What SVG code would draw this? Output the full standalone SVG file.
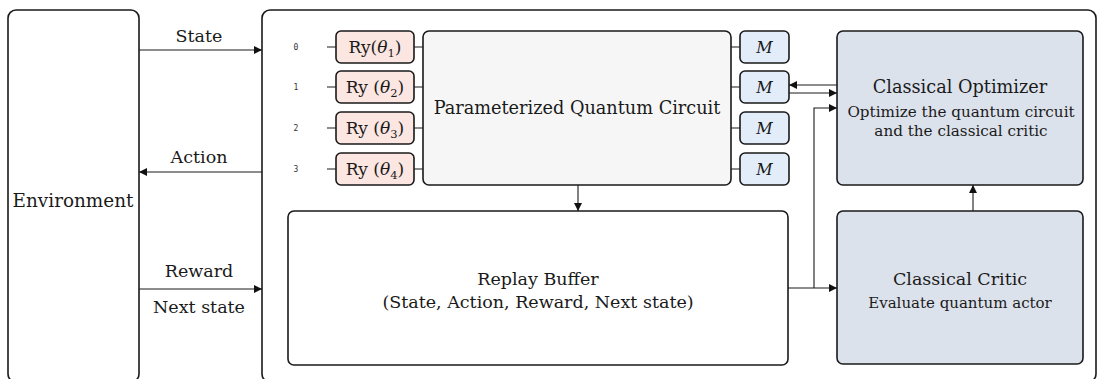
<svg xmlns="http://www.w3.org/2000/svg" width="1098" height="379" viewBox="0 0 1098 379">
<defs>
<marker id="ah" viewBox="0 0 10 10" refX="10" refY="5" markerWidth="8" markerHeight="8" markerUnits="userSpaceOnUse" orient="auto">
<path d="M0,0 L10,5 L0,10 z" fill="#111"/>
</marker>
</defs>
<style>
.box{stroke:#1a1a1a;stroke-width:1.6}
.t{font-family:"DejaVu Serif","Liberation Serif",serif;fill:#1a1a1a;text-anchor:middle}
.lbl{font-size:17.5px}
.ry{fill:#fbe6e1}
.m{fill:#e2edf9}
.cl{fill:#dce2ec}
.q{font-family:"DejaVu Sans Mono","Liberation Mono",monospace;font-size:8px;fill:#333;text-anchor:middle}
.c{stroke:#1a1a1a;stroke-width:1.1;fill:none}
.a{marker-end:url(#ah)}
</style>
<rect width="1098" height="379" fill="#fff"/>

<g id="environment">
<rect class="box" x="8" y="10" width="131" height="372" rx="8" fill="#fff"/>
<text class="t" x="73" y="207" font-size="18.4">Environment</text>
</g>

<g id="agent">
<rect class="box" x="262" y="10" width="834" height="372" rx="8" fill="#fff"/>
</g>

<g id="qubit-labels">
<text class="q" x="296" y="50">0</text>
<text class="q" x="296" y="90">1</text>
<text class="q" x="296" y="131">2</text>
<text class="q" x="296" y="172">3</text>
</g>

<g id="ry1">
<rect class="box ry" x="336" y="31" width="78" height="32" rx="5"/>
<text class="t" x="375" y="53" font-size="17">Ry(<tspan font-style="italic">θ</tspan><tspan font-size="11.5" dy="4">1</tspan><tspan dy="-4">)</tspan></text>
</g>
<g id="ry2">
<rect class="box ry" x="336" y="71" width="78" height="32" rx="5"/>
<text class="t" x="375" y="93" font-size="17">Ry (<tspan font-style="italic">θ</tspan><tspan font-size="11.5" dy="4">2</tspan><tspan dy="-4">)</tspan></text>
</g>
<g id="ry3">
<rect class="box ry" x="336" y="112" width="78" height="32" rx="5"/>
<text class="t" x="375" y="134" font-size="17">Ry (<tspan font-style="italic">θ</tspan><tspan font-size="11.5" dy="4">3</tspan><tspan dy="-4">)</tspan></text>
</g>
<g id="ry4">
<rect class="box ry" x="336" y="153" width="78" height="32" rx="5"/>
<text class="t" x="375" y="175" font-size="17">Ry (<tspan font-style="italic">θ</tspan><tspan font-size="11.5" dy="4">4</tspan><tspan dy="-4">)</tspan></text>
</g>

<g id="pqc">
<rect class="box" x="423" y="31" width="308" height="154" rx="6" fill="#f6f6f6"/>
<text class="t" x="577" y="114" font-size="17.7">Parameterized Quantum Circuit</text>
</g>

<g id="m1">
<rect class="box m" x="740" y="31" width="49" height="32" rx="5"/>
<text class="t" x="764.5" y="53" font-size="16" font-style="italic">M</text>
</g>
<g id="m2">
<rect class="box m" x="740" y="71" width="49" height="32" rx="5"/>
<text class="t" x="764.5" y="93" font-size="16" font-style="italic">M</text>
</g>
<g id="m3">
<rect class="box m" x="740" y="112" width="49" height="32" rx="5"/>
<text class="t" x="764.5" y="134" font-size="16" font-style="italic">M</text>
</g>
<g id="m4">
<rect class="box m" x="740" y="153" width="49" height="32" rx="5"/>
<text class="t" x="764.5" y="175" font-size="16" font-style="italic">M</text>
</g>

<g id="optimizer">
<rect class="box cl" x="837" y="31" width="246" height="154" rx="6"/>
<text class="t" x="960" y="93" font-size="17.7">Classical Optimizer</text>
<text class="t" x="961" y="117" font-size="15.2">Optimize the quantum circuit</text>
<text class="t" x="961" y="136" font-size="15.2">and the classical critic</text>
</g>

<g id="replay">
<rect class="box" x="288" y="211" width="500" height="154" rx="6" fill="#fff"/>
<text class="t" x="538" y="285" font-size="17.5">Replay Buffer</text>
<text class="t" x="538" y="308" font-size="17.5">(State, Action, Reward, Next state)</text>
</g>

<g id="critic">
<rect class="box cl" x="837" y="211" width="246" height="153" rx="6"/>
<text class="t" x="960" y="285" font-size="17.5">Classical Critic</text>
<text class="t" x="960" y="308" font-size="15">Evaluate quantum actor</text>
</g>

<g id="connectors">
<path class="c a" d="M139,50 H262"/>
<path class="c a" d="M262,172 H139"/>
<path class="c a" d="M139,289 H262"/>
<path class="c" d="M327,47 H336 M414,47 H423 M731,47 H740"/>
<path class="c" d="M327,87 H336 M414,87 H423 M731,87 H740"/>
<path class="c" d="M327,128 H336 M414,128 H423 M731,128 H740"/>
<path class="c" d="M327,169 H336 M414,169 H423 M731,169 H740"/>
<path class="c a" d="M578,185 V211"/>
<path class="c a" d="M837,85 H789"/>
<path class="c a" d="M789,93 H837"/>
<path class="c a" d="M788,288 H837"/>
<path class="c a" d="M814,288 V108 H837"/>
<path class="c a" d="M973,211 V185"/>
</g>
<g id="labels">
<text class="t lbl" x="199" y="42">State</text>
<text class="t lbl" x="199" y="163">Action</text>
<text class="t lbl" x="199" y="277">Reward</text>
<text class="t lbl" x="199" y="313">Next state</text>
</g>
</svg>
